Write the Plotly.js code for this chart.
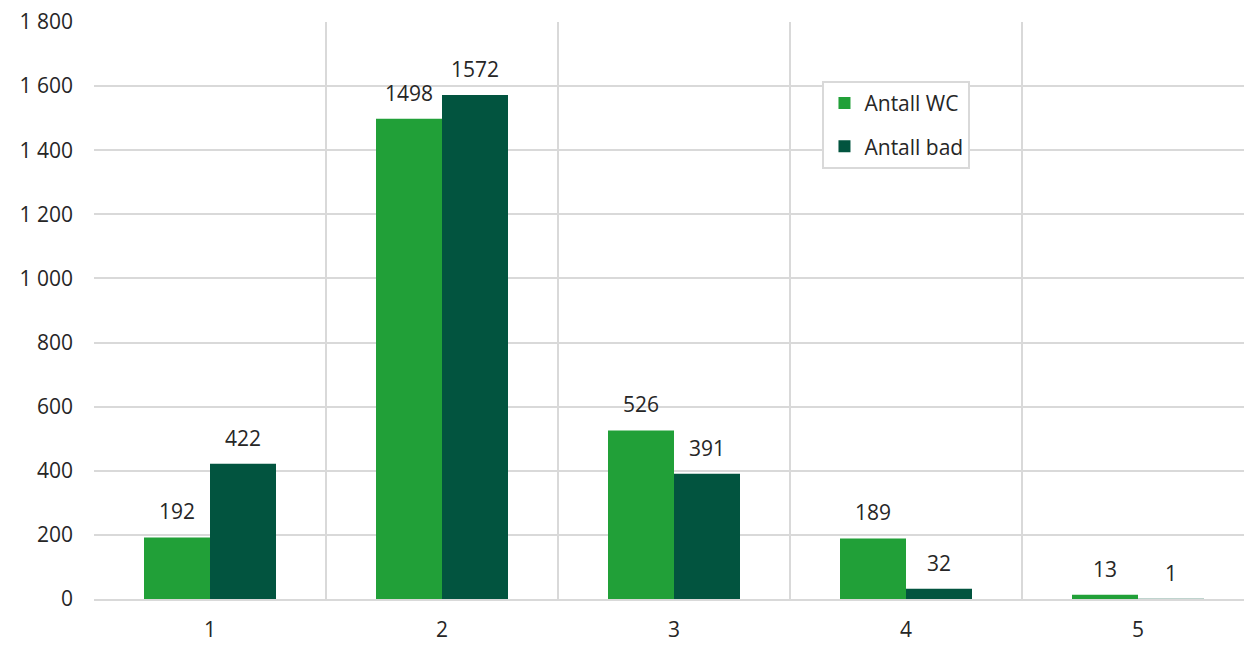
<!DOCTYPE html>
<html><head><meta charset="utf-8">
<script src="https://cdn.plot.ly/plotly-3.0.1.min.js"></script>
<style>html,body{margin:0;padding:0;overflow:hidden;background:#fff}</style>
</head><body>
<div id="chart"></div>
<script>
const categories = [1, 2, 3, 4, 5];
const antallWC = [192, 1498, 526, 189, 13];
const antallBad = [422, 1572, 391, 32, 1];
const seriesNames = ["Antall WC", "Antall bad"];
const yTicks = [0, 200, 400, 600, 800, 1000, 1200, 1400, 1600, 1800];
const boundaries = [0.5, 1.5, 2.5, 3.5, 4.5, 5.5];

const tickFont = {family: "Open Sans, Noto Sans, sans-serif", size: 21, color: "#262626"};
const labelFont = {family: "Open Sans, Noto Sans, sans-serif", size: 21, color: "#262626"};
const colors = ["#21A038", "#02543F"];
const series = [antallWC, antallBad];

const traces = series.map((vals, i) => ({
  type: "bar", name: seriesNames[i], x: categories, y: vals,
  marker: {color: colors[i]}, legendgroup: "g" + i, hoverinfo: "none"
}));

const annotations = [];
series.forEach((vals, i) => {
  vals.forEach((v, j) => {
    annotations.push({x: categories[j], y: v, text: String(v), showarrow: false,
      xref: "x", yref: "y", xanchor: "center", yanchor: "bottom",
      xshift: i === 0 ? -33 : 33, yshift: 10, font: labelFont});
  });
});

const layout = {
  width: 1260, height: 646,
  margin: {l: 94, r: 6, t: 22, b: 47},
  paper_bgcolor: "#fff", plot_bgcolor: "#fff",
  font: tickFont,
  separators: ", ",
  barmode: "group", bargap: 0.431, bargroupgap: 0,
  showlegend: true,
  legend: {x: 0.628, y: 0.898, xanchor: "left", yanchor: "top",
    bordercolor: "#d9d9d9", borderwidth: 2, bgcolor: "#fff",
    font: labelFont, tracegroupgap: 13, traceorder: "grouped", itemwidth: 30},
  annotations: annotations,
  xaxis: {range: [0.5, 5.5], tickvals: categories, ticktext: categories.map(String),
    showgrid: false, zeroline: false, showline: true, linecolor: "#d9d9d9", linewidth: 2,
    ticks: "", tickfont: tickFont, ticklabelstandoff: 11,
    minor: {tickvals: boundaries, showgrid: true, gridcolor: "#d9d9d9", gridwidth: 2, ticks: ""}},
  yaxis: {range: [0, 1800], tickvals: yTicks, tickformat: ",d", showgrid: true,
    gridcolor: "#d9d9d9", gridwidth: 2, zeroline: false, showline: false, ticks: "",
    ticklabelstandoff: 20, tickfont: tickFont}
};
Plotly.newPlot("chart", traces, layout, {displayModeBar: false, staticPlot: true});
</script>
</body></html>
